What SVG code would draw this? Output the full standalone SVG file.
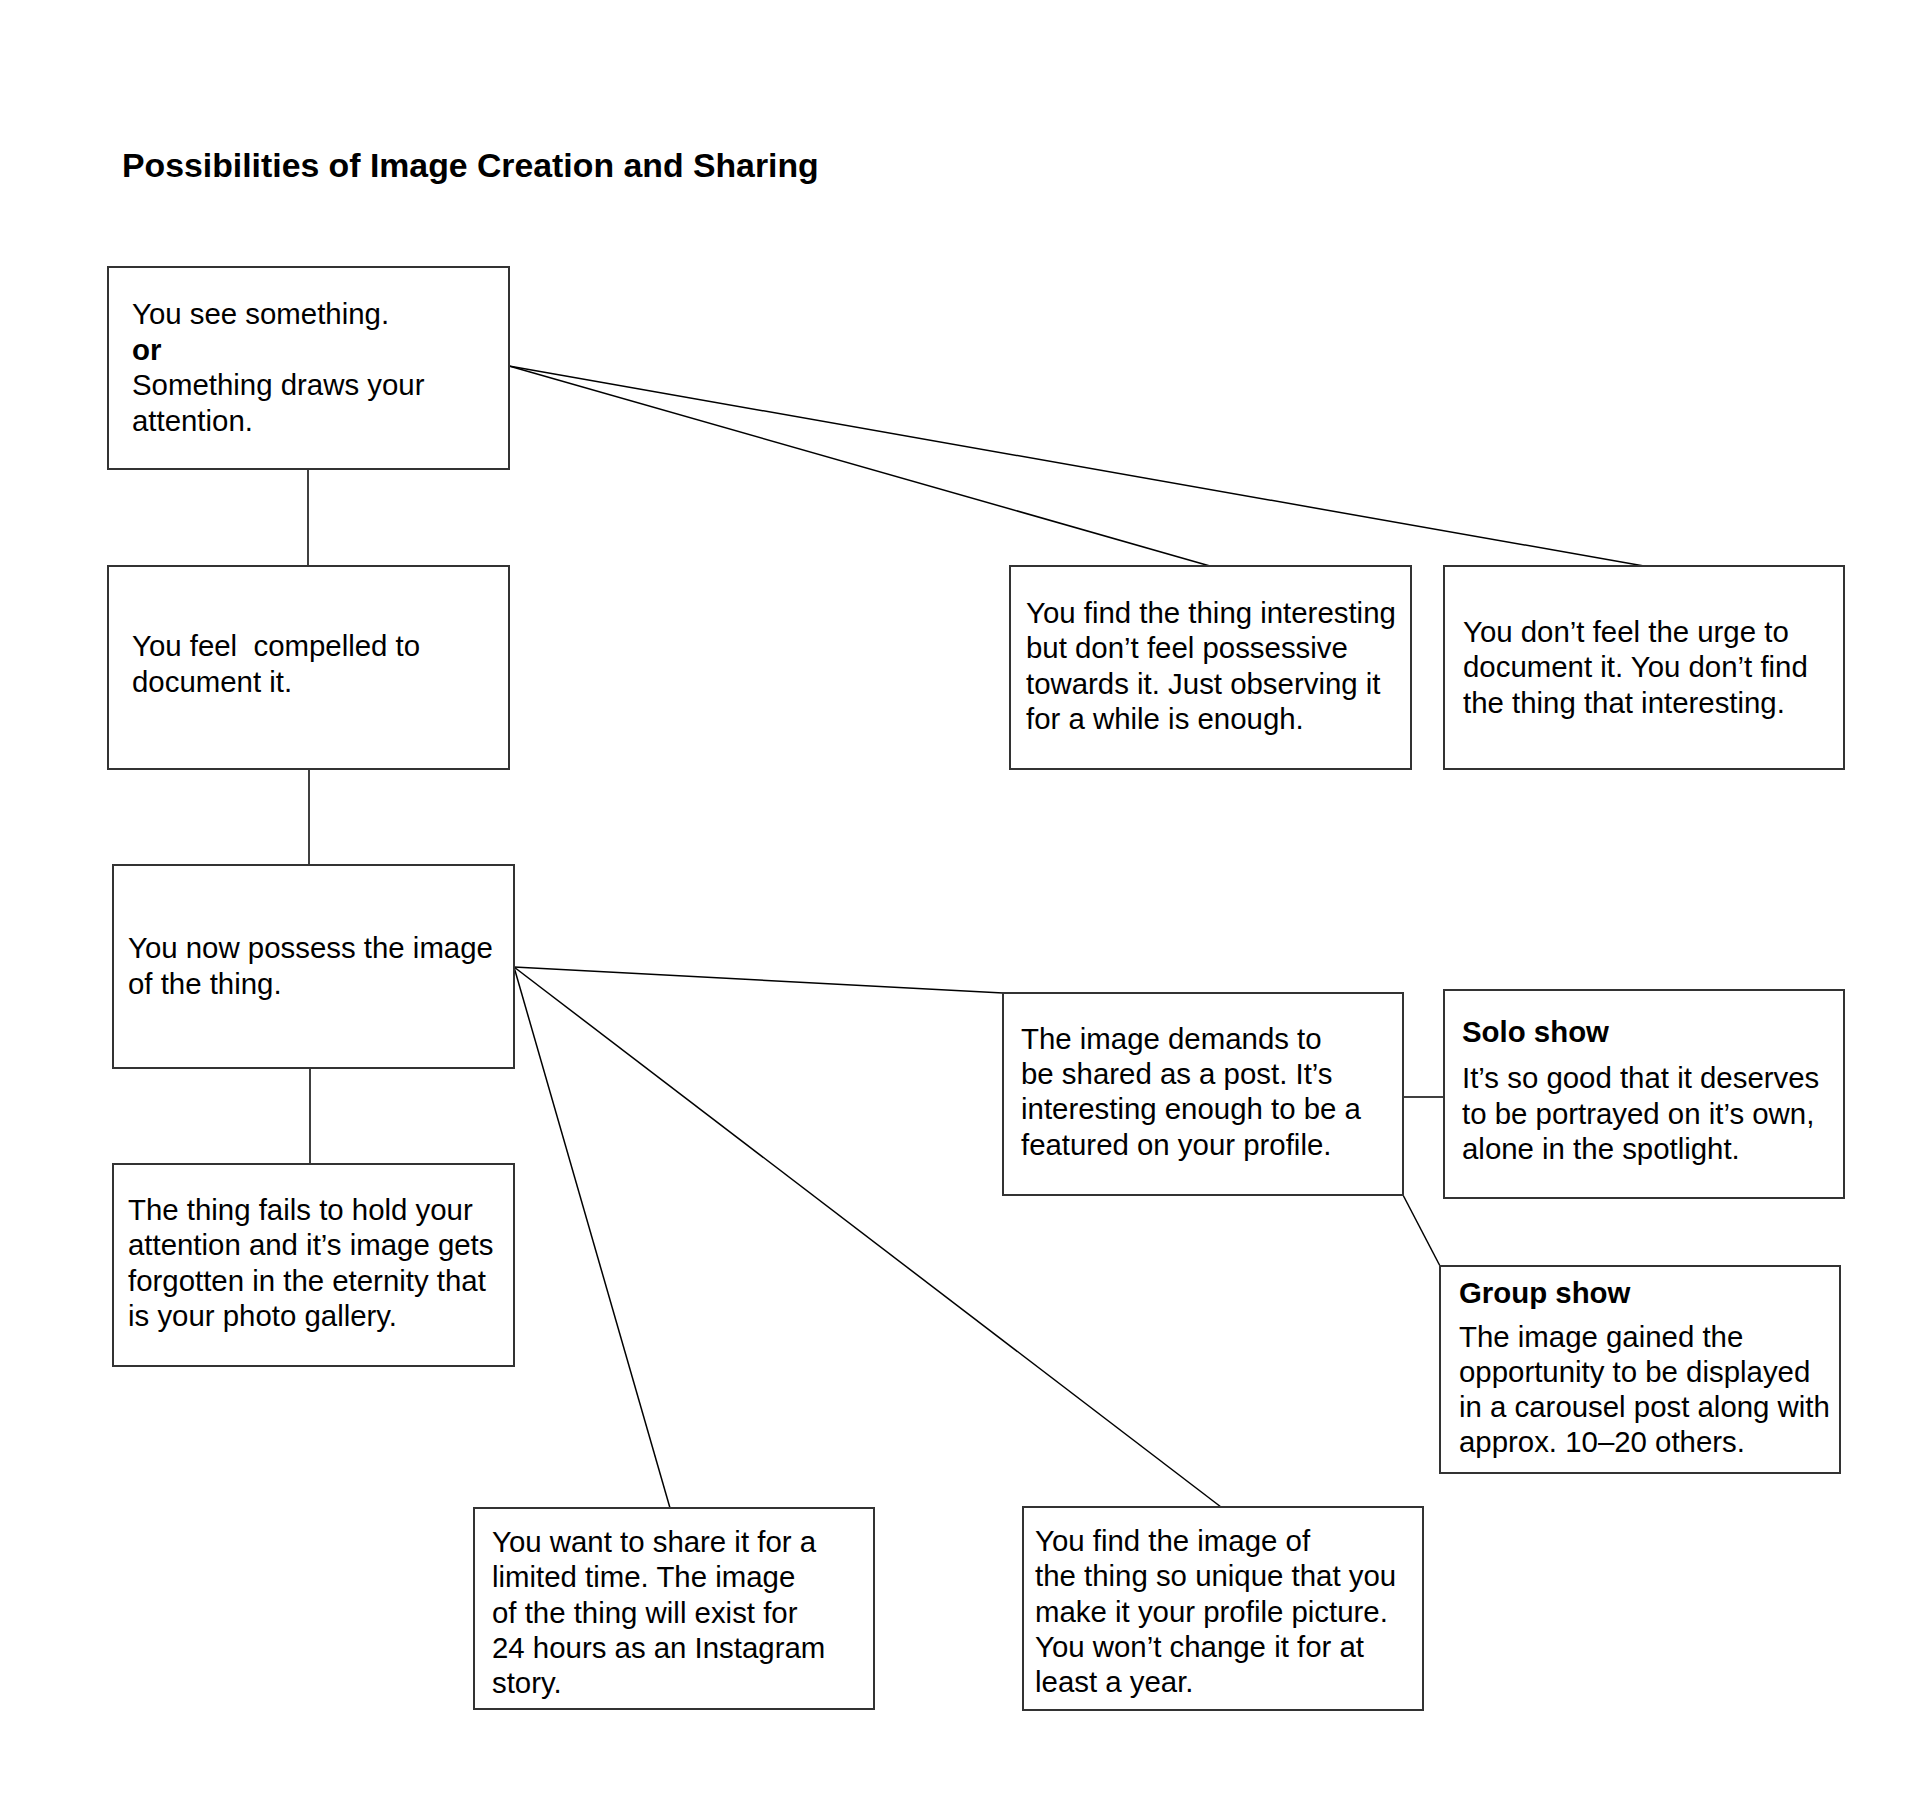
<svg xmlns="http://www.w3.org/2000/svg" width="1920" height="1800" viewBox="0 0 1920 1800">
<style>
.bg{fill:#ffffff}
.box{fill:#ffffff;stroke:#333333;stroke-width:2}
.t{font-family:"Liberation Sans",Arial,Helvetica,sans-serif;font-size:29.4px;fill:#000000;white-space:pre}
.b{font-weight:bold}
.title{font-family:"Liberation Sans",Arial,Helvetica,sans-serif;font-size:33.8px;font-weight:bold;fill:#000000}
.edge{stroke:#000000;stroke-width:1.5;fill:none}
</style>
<rect class="bg" x="0" y="0" width="1920" height="1800"/>
<text class="title" x="122" y="177">Possibilities of Image Creation and Sharing</text>
<g id="connectors">
<line class="edge" x1="308" y1="469" x2="308" y2="566"/>
<line class="edge" x1="309" y1="769" x2="309" y2="865"/>
<line class="edge" x1="310" y1="1068" x2="310" y2="1164"/>
<line class="edge" x1="509" y1="366" x2="1210" y2="566"/>
<line class="edge" x1="509" y1="366" x2="1644" y2="566"/>
<line class="edge" x1="514" y1="967" x2="1003" y2="993"/>
<line class="edge" x1="514" y1="967" x2="670" y2="1508"/>
<line class="edge" x1="514" y1="967" x2="1221" y2="1507"/>
<line class="edge" x1="1403" y1="1097" x2="1444" y2="1097"/>
<line class="edge" x1="1403" y1="1195" x2="1440" y2="1266"/>
</g>
<g id="n1">
<rect class="box" x="108" y="267" width="401" height="202"/>
<text class="t" x="132" y="324">You see something.</text>
<text class="t b" x="132" y="359.5">or</text>
<text class="t" x="132" y="395">Something draws your</text>
<text class="t" x="132" y="430.5">attention.</text>
</g>
<g id="n2">
<rect class="box" x="108" y="566" width="401" height="203"/>
<text class="t" x="132" y="656">You feel  compelled to</text>
<text class="t" x="132" y="691.5">document it.</text>
</g>
<g id="n3">
<rect class="box" x="1010" y="566" width="401" height="203"/>
<text class="t" x="1026" y="622.5">You find the thing interesting</text>
<text class="t" x="1026" y="658">but don’t feel possessive</text>
<text class="t" x="1026" y="693.5">towards it. Just observing it</text>
<text class="t" x="1026" y="729">for a while is enough.</text>
</g>
<g id="n4">
<rect class="box" x="1444" y="566" width="400" height="203"/>
<text class="t" x="1463" y="641.5">You don’t feel the urge to</text>
<text class="t" x="1463" y="677">document it. You don’t find</text>
<text class="t" x="1463" y="712.5">the thing that interesting.</text>
</g>
<g id="n5">
<rect class="box" x="113" y="865" width="401" height="203"/>
<text class="t" x="128" y="958">You now possess the image</text>
<text class="t" x="128" y="994">of the thing.</text>
</g>
<g id="n6">
<rect class="box" x="113" y="1164" width="401" height="202"/>
<text class="t" x="128" y="1219.5">The thing fails to hold your</text>
<text class="t" x="128" y="1255">attention and it’s image gets</text>
<text class="t" x="128" y="1290.5">forgotten in the eternity that</text>
<text class="t" x="128" y="1326">is your photo gallery.</text>
</g>
<g id="n7">
<rect class="box" x="1003" y="993" width="400" height="202"/>
<text class="t" x="1021" y="1048.5">The image demands to</text>
<text class="t" x="1021" y="1083.5">be shared as a post. It’s</text>
<text class="t" x="1021" y="1119">interesting enough to be a</text>
<text class="t" x="1021" y="1155">featured on your profile.</text>
</g>
<g id="n8">
<rect class="box" x="1444" y="990" width="400" height="208"/>
<text class="t b" x="1462" y="1041.5">Solo show</text>
<text class="t" x="1462" y="1088">It’s so good that it deserves</text>
<text class="t" x="1462" y="1124">to be portrayed on it’s own,</text>
<text class="t" x="1462" y="1159">alone in the spotlight.</text>
</g>
<g id="n9">
<rect class="box" x="1440" y="1266" width="400" height="207"/>
<text class="t b" x="1459" y="1303">Group show</text>
<text class="t" x="1459" y="1346.5">The image gained the</text>
<text class="t" x="1459" y="1381.5">opportunity to be displayed</text>
<text class="t" x="1459" y="1416.5">in a carousel post along with</text>
<text class="t" x="1459" y="1451.5">approx. 10–20 others.</text>
</g>
<g id="n10">
<rect class="box" x="474" y="1508" width="400" height="201"/>
<text class="t" x="492" y="1551.5">You want to share it for a</text>
<text class="t" x="492" y="1587">limited time. The image</text>
<text class="t" x="492" y="1622.5">of the thing will exist for</text>
<text class="t" x="492" y="1657.5">24 hours as an Instagram</text>
<text class="t" x="492" y="1693">story.</text>
</g>
<g id="n11">
<rect class="box" x="1023" y="1507" width="400" height="203"/>
<text class="t" x="1035" y="1550.5">You find the image of</text>
<text class="t" x="1035" y="1586">the thing so unique that you</text>
<text class="t" x="1035" y="1621.5">make it your profile picture.</text>
<text class="t" x="1035" y="1656.5">You won’t change it for at</text>
<text class="t" x="1035" y="1692">least a year.</text>
</g>
</svg>
